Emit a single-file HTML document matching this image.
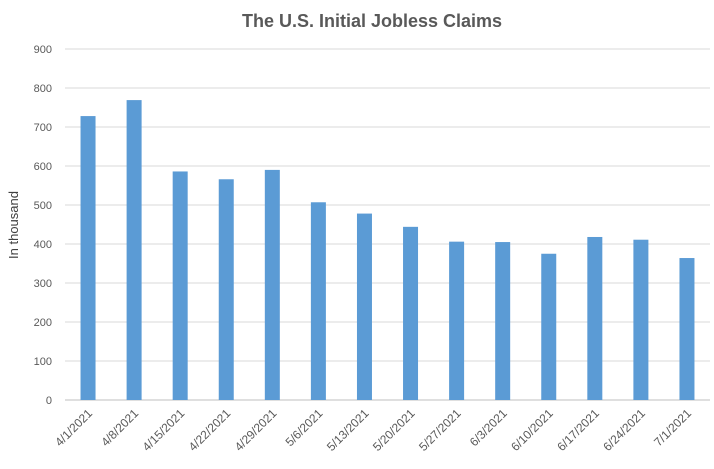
<!DOCTYPE html>
<html><head><meta charset="utf-8"><style>
body{margin:0;background:#fff;width:714px;height:464px;overflow:hidden;font-family:"Liberation Sans",sans-serif}
</style></head><body>
<svg width="714" height="464">
<text x="372" y="27" text-anchor="middle" font-size="18" font-weight="bold" fill="#595959">The U.S. Initial Jobless Claims</text>
<text transform="translate(18,225) rotate(-90)" text-anchor="middle" font-size="13" fill="#404040">In thousand</text>
<g id="grid"></g><g id="bars"></g><g id="xl"></g>
</svg>
<script>
const categories=["4/1/2021","4/8/2021","4/15/2021","4/22/2021","4/29/2021","5/6/2021","5/13/2021","5/20/2021","5/27/2021","6/3/2021","6/10/2021","6/17/2021","6/24/2021","7/1/2021"];
const claims=[728,769,586,566,590,507,478,444,406,405,375,418,411,364];
const yTicks=[0,100,200,300,400,500,600,700,800,900];
const NS="http://www.w3.org/2000/svg";
const x0=65,x1=710,y0=400,y1=49,yMax=900;
const y=v=>y0-(v/yMax)*(y0-y1);
const band=(x1-x0)/categories.length;
const xc=i=>x0+band*(i+0.5);
function mk(t,a){const e=document.createElementNS(NS,t);for(const k in a)e.setAttribute(k,a[k]);return e;}
const g=document.getElementById('grid');
yTicks.forEach(t=>{
 const l=mk('line',{x1:x0,x2:x1,y1:y(t),y2:y(t),stroke:t===0?'#bfbfbf':'#d9d9d9','stroke-width':1});
 
 
 g.appendChild(l);
 const tx=mk('text',{x:52,y:y(t)+4,'text-anchor':'end','font-size':11,fill:'#595959'});
 tx.textContent=t;
 
 
 g.appendChild(tx);
});
const b=document.getElementById('bars'),xl=document.getElementById('xl');
claims.forEach((v,i)=>{
 const r=mk('rect',{x:xc(i)-7.5,y:y(v),width:15,height:y0-y(v),fill:'#5b9bd5'});
 
 
 b.appendChild(r);
 const tx=mk('text',{transform:`translate(${xc(i)+5},${y0+14}) rotate(-45)`,'text-anchor':'end','font-size':12,fill:'#595959'});
 tx.textContent=categories[i];
 
 
 xl.appendChild(tx);
});
</script>
</body></html>
